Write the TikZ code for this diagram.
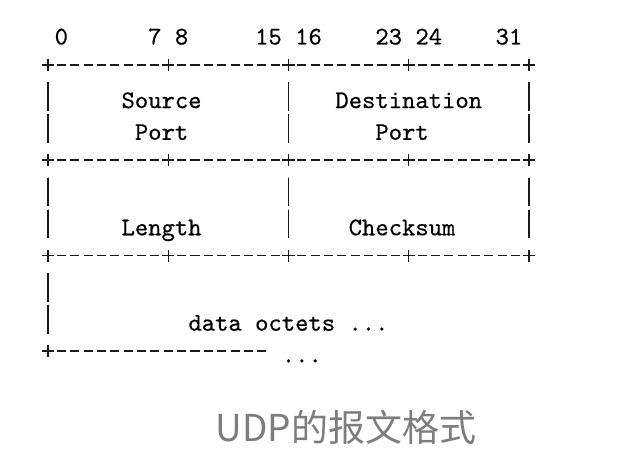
\documentclass[tikz,border=0pt]{standalone}
\usepackage{fontspec}
\newfontfamily\cjk{Noto Sans CJK SC}
\newfontfamily\asciimono{lmmono10-regular.otf}[FakeBold=0.5]
\usetikzlibrary{calc}
\definecolor{capgray}{RGB}{125,125,125}
\tikzset{
  ascii/.style={black!90, line width=0.75pt},
  txt/.style={font=\fontsize{12.7}{15}\selectfont\asciimono, inner sep=0pt, anchor=base},
}
\newcommand{\pluscell}[2]{\draw[ascii] (#1-0.45,#2) -- (#1+0.45,#2) (#1,#2-0.19) -- (#1,#2+0.19);}
\newcommand{\dashcell}[2]{\draw[ascii] (#1-0.34,#2) -- (#1+0.34,#2);}

\begin{document}
\begin{tikzpicture}[x=6.68pt, y=-15.9pt]
\useasboundingbox (-3.593,-1.038) rectangle (43.86,13.805);
\foreach \r in {1,4,7} {
 \foreach \c [evaluate=\c as \m using int(\c-9*floor(\c/9))] in {0,...,36} {
  \ifnum\m=0 \pluscell{\c}{\r} \else \dashcell{\c}{\r} \fi
 }
}
\pluscell{0}{10}
\foreach \c in {1,...,16} \dashcell{\c}{10}
\foreach \r in {2,3,5,6} {
 \foreach \c in {0,18,36} \draw[ascii] (\c,\r-0.45) -- (\c,\r+0.45);
}
\foreach \r in {8,9} \draw[ascii] (0,\r-0.45) -- (0,\r+0.45);
\foreach \n/\c in {0/1, 7/8, 8/10, 15/16.5, 16/19.5, 23/25.5, 24/28.5, 31/34.5}
 \node[txt] (bit\n) at (\c,0.36) {\n};
\node[txt] (src) at (8.5,2.36) {Source};
\node[txt] (srcport) at (8.5,3.36) {Port};
\node[txt] (dst) at (27,2.36) {Destination};
\node[txt] (dstport) at (26.5,3.36) {Port};
\node[txt] (len) at (8.5,6.36) {Length};
\node[txt] (chk) at (26.5,6.36) {Checksum};
\node[txt] (data) at (18,9.36) {data octets ...};
\node[txt] (more) at (19,10.36) {...};
\node[font=\cjk\fontsize{18.5}{20}\selectfont, text=capgray, inner sep=0pt, anchor=base] (caption) at (22.3,12.83) {UDP的报文格式};
\end{tikzpicture}
\end{document}
